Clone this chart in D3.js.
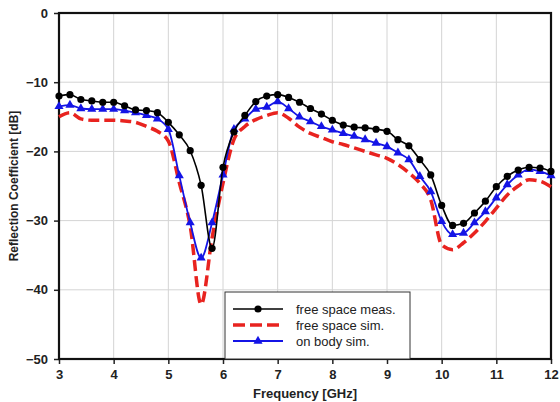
<!DOCTYPE html>
<html>
<head>
<meta charset="utf-8">
<script src="https://cdn.jsdelivr.net/npm/d3@7"></script>
<style>
  body { margin: 0; background: #fff; }
  text { font-family: Arial, "Liberation Sans", sans-serif; }
</style>
</head>
<body>
<svg id="chart"></svg>
<script>
        // Frequency points [GHz]
        var freq = [3.0,3.2,3.4,3.6,3.8,4.0,4.2,4.4,4.6,4.8,5.0,5.2,5.4,5.6,5.8,6.0,6.2,6.4,6.6,6.8,
                    7.0,7.2,7.4,7.6,7.8,8.0,8.2,8.4,8.6,8.8,9.0,9.2,9.4,9.6,9.8,10.0,10.2,10.4,10.6,10.8,
                    11.0,11.2,11.4,11.6,11.8,12.0];

        // free space meas.
        var freeMeas = [-12.0,-11.8,-12.5,-12.7,-12.9,-12.9,-13.4,-14.0,-14.1,-14.4,-15.8,-17.6,-19.9,-24.9,-34.0,-22.3,-17.2,-14.8,-12.8,-12.0,
                        -11.8,-12.2,-12.9,-13.8,-14.6,-15.5,-16.2,-16.5,-16.6,-16.8,-17.1,-18.3,-19.2,-21.2,-23.4,-27.8,-30.7,-30.4,-28.9,-27.2,
                        -25.1,-23.6,-22.7,-22.3,-22.4,-22.9];

        // free space sim.
        var freeSim = [-15.0,-14.4,-15.3,-15.5,-15.5,-15.5,-15.6,-15.8,-16.4,-17.1,-18.5,-24.5,-30.8,-42.1,-32.5,-24.6,-18.3,-16.4,-15.4,-14.8,
                       -14.4,-15.2,-16.5,-17.4,-18.0,-18.6,-19.0,-19.5,-20.0,-20.5,-21.0,-21.9,-23.1,-24.6,-27.0,-33.5,-34.2,-33.2,-31.8,-30.1,
                       -28.2,-26.3,-25.0,-24.1,-24.3,-25.1];

        // on body sim.
        var bodySim = [-13.5,-13.3,-13.8,-13.9,-13.9,-13.9,-14.1,-14.4,-14.8,-15.3,-16.8,-23.5,-30.3,-35.4,-30.3,-23.4,-16.8,-15.3,-13.9,-13.6,
                       -12.8,-13.8,-15.0,-15.7,-16.4,-16.9,-17.4,-17.8,-18.3,-18.8,-19.3,-20.2,-21.2,-23.6,-25.8,-30.1,-32.0,-31.8,-30.3,-28.7,
                       -26.7,-24.8,-23.4,-22.6,-22.9,-23.5];

        // Tick values
        var xTicks = [3,4,5,6,7,8,9,10,11,12];
        var yTicks = [0,-10,-20,-30,-40,-50];

        var legendLabels = ["free space meas.", "free space sim.", "on body sim."];

        // Chart dimensions
        const margin = {top: 13, right: 9, bottom: 43, left: 59};
        var w = 560 - margin.left - margin.right;
        var h = 402 - margin.top - margin.bottom;

        var svg = d3.select("#chart")
                    .attr("width", 560)
                    .attr("height", 402)
                    .append("g")
                    .attr("transform", "translate(" + margin.left + "," + margin.top + ")");

        var xScale = d3.scaleLinear().domain([3, 12]).range([0, w]);
        var yScale = d3.scaleLinear().domain([-50, 0]).range([h, 0]);

        // Grid lines
        svg.append("g")
            .selectAll("line")
            .data(xTicks)
            .enter()
            .append("line")
            .attr("x1", function(d) { return xScale(d); })
            .attr("x2", function(d) { return xScale(d); })
            .attr("y1", 0)
            .attr("y2", h)
            .attr("stroke", "#d4d4d4")
            .attr("stroke-width", 1);

        svg.append("g")
            .selectAll("line")
            .data(yTicks)
            .enter()
            .append("line")
            .attr("x1", 0)
            .attr("x2", w)
            .attr("y1", function(d) { return yScale(d); })
            .attr("y2", function(d) { return yScale(d); })
            .attr("stroke", "#d4d4d4")
            .attr("stroke-width", 1);

        // Axes
        var xAxis = d3.axisBottom(xScale).tickValues(xTicks).tickSize(5).tickPadding(6).tickFormat(d3.format("d"));
        var yAxis = d3.axisLeft(yScale).tickValues(yTicks).tickSize(5).tickPadding(6).tickFormat(d3.format("d"));

        var gx = svg.append("g")
            .attr("transform", `translate(0, ${h})`)
            .call(xAxis);
        var gy = svg.append("g")
            .call(yAxis);

        [gx, gy].forEach(function(g) {
            g.select(".domain").remove();
            g.selectAll("line").attr("stroke", "#222").attr("stroke-width", 1.5);
            g.selectAll("text")
                .attr("font-size", "13px")
                .attr("font-weight", "bold")
                .attr("fill", "#222");
        });

        // Frame
        svg.append("rect")
            .attr("x", 0)
            .attr("y", 0)
            .attr("width", w)
            .attr("height", h)
            .attr("fill", "none")
            .attr("stroke", "#111")
            .attr("stroke-width", 2.2);

        // Lines
        function series(values) {
            return values.map(function(v, i) { return [freq[i], v]; });
        }

        var line = d3.line()
            .curve(d3.curveMonotoneX)
            .x(function(d) { return xScale(d[0]); })
            .y(function(d) { return yScale(d[1]); });

        // free space sim. (red dashed)
        svg.append("path")
            .datum(series(freeSim))
            .attr("d", line)
            .attr("fill", "none")
            .attr("stroke", "#e8231f")
            .attr("stroke-width", 3.5)
            .attr("stroke-dasharray", "11,5");

        // on body sim. (blue triangles)
        svg.append("path")
            .datum(series(bodySim))
            .attr("d", line)
            .attr("fill", "none")
            .attr("stroke", "#1414e6")
            .attr("stroke-width", 1.8);

        var triangle = d3.symbol().type(d3.symbolTriangle).size(36);
        svg.append("g")
            .selectAll("path")
            .data(series(bodySim))
            .enter()
            .append("path")
            .attr("d", triangle)
            .attr("transform", function(d) { return "translate(" + xScale(d[0]) + "," + yScale(d[1]) + ")"; })
            .attr("fill", "#1414e6");

        // free space meas. (black dots)
        svg.append("path")
            .datum(series(freeMeas))
            .attr("d", line)
            .attr("fill", "none")
            .attr("stroke", "#000")
            .attr("stroke-width", 1.6);

        svg.append("g")
            .selectAll("circle")
            .data(series(freeMeas))
            .enter()
            .append("circle")
            .attr("cx", function(d) { return xScale(d[0]); })
            .attr("cy", function(d) { return yScale(d[1]); })
            .attr("r", 3.6)
            .attr("fill", "#000");

        // Legend
        var lg = svg.append("g")
            .attr("transform", "translate(" + (225 - margin.left) + "," + (292 - margin.top) + ")");

        lg.append("rect")
            .attr("x", 0)
            .attr("y", 0)
            .attr("width", 185)
            .attr("height", 67)
            .attr("fill", "#fff")
            .attr("stroke", "#333")
            .attr("stroke-width", 1);

        var rows = [17, 33, 49];

        lg.append("line")
            .attr("x1", 8).attr("x2", 58)
            .attr("y1", rows[0]).attr("y2", rows[0])
            .attr("stroke", "#000").attr("stroke-width", 1.6);
        lg.append("circle")
            .attr("cx", 33).attr("cy", rows[0]).attr("r", 3.6).attr("fill", "#000");

        lg.append("line")
            .attr("x1", 8).attr("x2", 58)
            .attr("y1", rows[1]).attr("y2", rows[1])
            .attr("stroke", "#e8231f").attr("stroke-width", 3.5)
            .attr("stroke-dasharray", "12,5");

        lg.append("line")
            .attr("x1", 8).attr("x2", 58)
            .attr("y1", rows[2]).attr("y2", rows[2])
            .attr("stroke", "#1414e6").attr("stroke-width", 1.8);
        lg.append("path")
            .attr("d", triangle)
            .attr("transform", "translate(33," + rows[2] + ")")
            .attr("fill", "#1414e6");

        lg.selectAll("text")
            .data(legendLabels)
            .enter()
            .append("text")
            .attr("x", 71)
            .attr("y", function(d, i) { return rows[i]; })
            .attr("dy", "0.35em")
            .attr("font-size", "13px")
            .attr("fill", "#222")
            .text(function(d) { return d; });

        // Axis titles
        svg.append("text")
            .attr("text-anchor", "middle")
            .attr("x", w / 2)
            .attr("y", h + 39)
            .attr("font-size", "13px")
            .attr("font-weight", "bold")
            .attr("fill", "#222")
            .text("Frequency [GHz]");

        svg.append("text")
            .attr("text-anchor", "middle")
            .attr("transform", "rotate(-90)")
            .attr("x", -h / 2)
            .attr("y", -41)
            .attr("font-size", "12px")
            .attr("font-weight", "bold")
            .attr("fill", "#222")
            .text("Reflection Coefficient [dB]");
</script>
</body>
</html>
